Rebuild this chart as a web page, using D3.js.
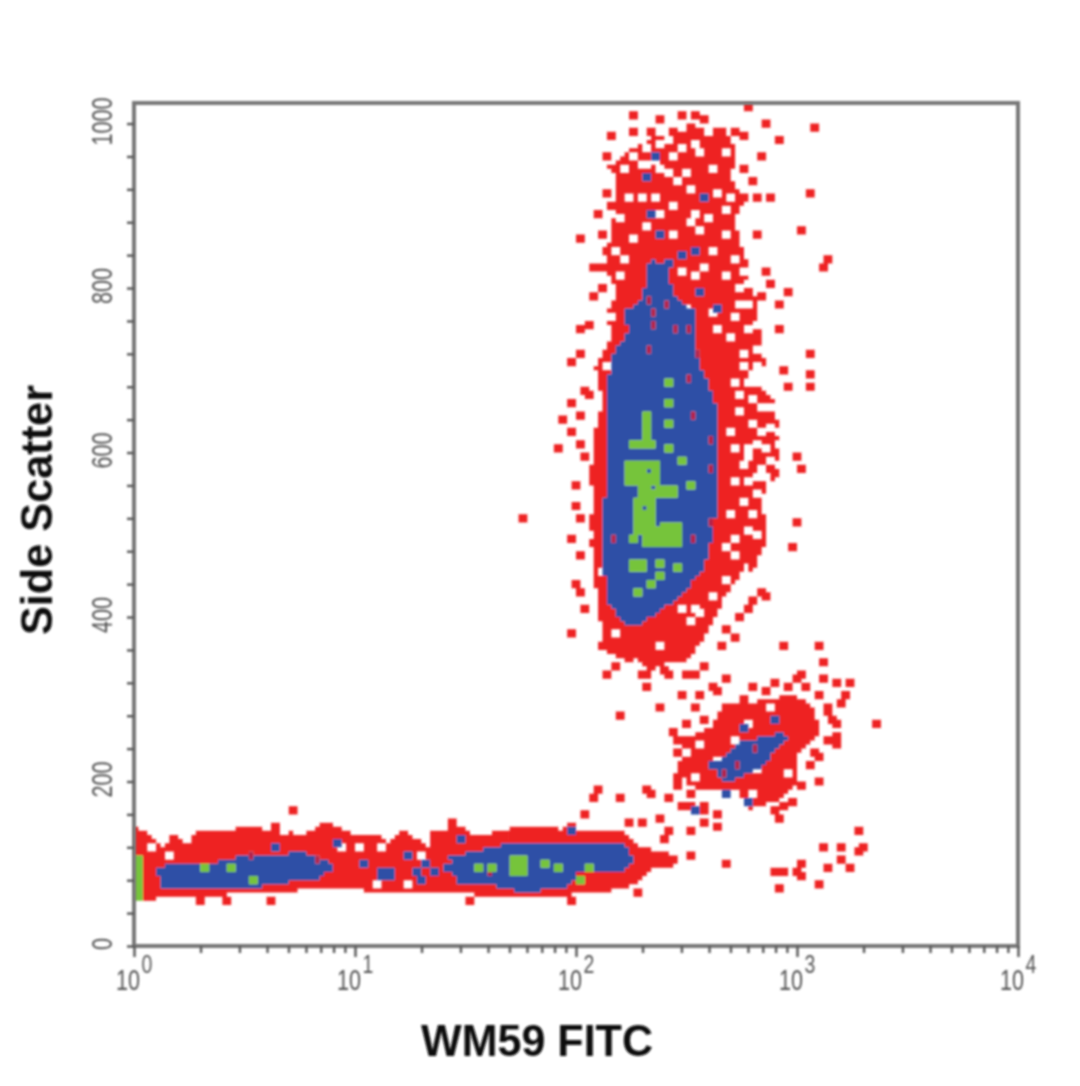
<!DOCTYPE html>
<html><head><meta charset="utf-8">
<script src="https://cdn.jsdelivr.net/npm/d3@7/dist/d3.min.js"></script>
<style>html,body{margin:0;background:#fff}svg{display:block}</style></head><body>
<svg id="c" width="1080" height="1086"></svg>
<script>
// All positions are [log10 FITC, Side Scatter]
const redBlob=[[2.25,925],[2.21,890],[2.19,860],[2.17,830],[2.19,800],[2.13,765],[2.15,740],[2.08,700],[2.11,660],[2.08,628],[2.07,600],[2.05,567],[2.08,540],[2.04,506],[2.07,470],[2.08,433],[2.10,395],[2.12,365],[2.19,345],[2.24,350],[2.33,330],[2.40,342],[2.50,345],[2.60,385],[2.66,421],[2.74,452],[2.78,490],[2.74,505],[2.77,530],[2.70,540],[2.73,570],[2.72,610],[2.74,625],[2.69,650],[2.73,690],[2.68,720],[2.72,750],[2.68,786],[2.63,825],[2.68,850],[2.62,880],[2.56,895],[2.52,870],[2.44,890],[2.38,915],[2.33,895]];
const redLattice=[[2.22,962],[2.335,980],[2.47,987],[2.65,995],[2.71,968],[2.695,932],[2.765,895],[2.72,859],[2.765,828],[2.81,774],[2.83,725],[2.79,682],[2.88,664],[2.915,616],[2.90,567],[2.83,543],[2.855,494],[2.79,451],[2.56,543],[2.47,786],[2.20,786],[2.12,822],[2.145,859],[2.18,913],[2.135,944]];
const redBand=[[0,141],[.07,131],[.12,117],[.16,131],[.185,135],[.23,117],[.28,139],[.32,139],[.37,135],[.46,141],[.55,141],[.705,135],[.75,131],[.84,147],[.865,147],[.98,135],[1.11,131],[1.135,119],[1.20,135],[1.225,137],[1.32,117],[1.34,135],[1.465,144],[1.52,131],[1.61,135],[1.70,141],[1.87,144],[1.93,139],[1.97,151],[2.0,139],[2.15,139],[2.22,135],[2.29,117],[2.39,111],[2.46,107],[2.435,95],[2.335,90],[2.27,74],[2.20,66],[2.11,64],[1.97,60],[1.93,58],[1.75,56],[1.61,58],[1.45,62],[1.34,62],[1.20,64],[1.09,62],[.98,68],[.84,66],[.75,66],[.59,60],[.46,62],[.30,56],[.14,58],[0,50]];
const redCluster=[[2.48,250],[2.60,262],[2.66,290],[2.83,296],[2.97,303],[3.06,290],[3.10,257],[3.00,232],[3.00,195],[2.90,174],[2.765,163],[2.72,190],[2.605,186],[2.50,192],[2.45,214],[2.47,235]];
const blueBlob=[[2.335,832],[2.29,786],[2.21,768],[2.225,743],[2.16,719],[2.13,676],[2.13,616],[2.12,543],[2.11,470],[2.135,415],[2.21,387],[2.275,387],[2.38,406],[2.47,425],[2.57,455],[2.615,500],[2.64,579],[2.64,640],[2.585,682],[2.525,725],[2.54,768],[2.435,786],[2.40,822]];
const blueBand1=[[.085,92],[.185,99],[.345,99],[.48,107],[.75,111],[.865,102],[.90,92],[.82,78],[.66,74],[.48,66],[.12,66]];
const blueBand2=[[1.09,95],[1.18,95],[1.18,80],[1.10,80]];
const blueBand3=[[1.415,105],[1.565,114],[1.68,123],[2.04,123],[2.20,123],[2.26,102],[2.20,86],[2.0,85],[1.93,66],[1.725,64],[1.61,71],[1.45,71]];
const blueCluster=[[2.605,214],[2.74,245],[2.92,257],[2.95,248],[2.81,212],[2.675,196]];
const greenAreas=[[2.30,2.345,616,652],[2.245,2.365,603,616],[2.21,2.37,558,591],[2.275,2.455,543,558],[2.26,2.35,502,543],[2.30,2.47,485,516],[2.235,2.27,488,498],[2.235,2.325,454,470],[1.70,1.78,84,111]];
const greenBar=[[0,0.035,53,112]];
const redPoints=[[2.245,1007],[2.457,1007],[2.755,1017],[2.84,996],[3.06,990],[2.145,978],[2.245,987],[2.325,987],[2.90,977],[2.74,978],[2.50,990],[2.62,978],[2.665,968],[2.457,977],[2.27,965],[2.12,953],[2.81,953],[2.74,942],[3.03,911],[2.80,903],[2.865,903],[2.74,903],[3.00,865],[3.12,831],[3.09,822],[1.995,855],[2.12,911],[2.086,886],[2.12,841],[2.06,822],[2.11,794],[2.84,815],[2.865,800],[2.93,790],[2.90,774],[2.90,747],[1.995,743],[1.96,703],[2.82,704],[2.92,695],[3.03,692],[2.93,676],[3.03,676],[3.03,713],[2.03,670],[1.96,656],[1.928,637],[1.96,622],[1.905,598],[2.03,591],[3.00,573],[2.97,591],[1.995,516],[1.96,491],[2.97,508],[2.96,478],[1.995,427],[2.84,418],[2.775,415],[2.71,397],[2.65,381],[1.96,375],[2.92,358],[3.07,358],[3.09,339],[2.12,324],[2.29,327],[2.515,324],[2.665,320],[2.40,324],[2.88,317],[3.00,324],[3.16,317],[3.22,317],[3.20,302],[2.775,309],[2.59,309],[2.155,362],[2.21,343],[2.29,312],[2.36,345],[2.45,300],[2.14,355],[2.89,66],[3.07,71],[3.005,96],[3.00,78],[2.88,86],[2.92,86],[2.97,86],[3.12,92],[3.17,99],[3.22,89],[3.09,114],[3.18,114],[3.25,108],[3.285,114],[3.25,133],[2.655,96],[2.50,105],[2.49,133],[2.365,150],[2.40,135],[2.38,123],[2.275,145],[2.21,147],[2.03,154],[2.18,173],[2.06,173],[2.085,187],[2.29,187],[2.31,180],[2.40,173],[2.46,163],[2.185,274],[2.365,283],[2.525,283],[3.34,266],[2.56,145],[2.89,150],[2.92,163],[3.07,195],[3.07,226],[3.16,238],[3.16,252],[3.12,283],[2.62,141],[2.51,165],[2.56,162],[2.44,230],[2.425,253],[1.74,517],[.705,162],[.40,52],[.27,48],[.60,50],[1.50,50],[1.95,52],[2.25,58],[.62,141],[1.42,143],[3.10,320],[3.18,290],[3.13,270],[2.55,300],[2.62,305],[2.98,318],
[2.36,1000],[2.425,987],[2.515,1005],[2.56,999],[2.70,987],[2.78,926],[2.79,859],[2.81,786],[2.145,895],[2.11,859],[2.10,822],[2.06,786],[2.04,749],[2.01,713],[2.04,664],[2.01,640],[1.995,603],[1.98,555],[1.97,530],[1.995,470],[1.98,433],[2.02,403],[2.11,360],[2.16,333],[2.27,324],[2.38,330],[2.47,326],[2.56,333],[2.63,360],[2.70,372],[2.765,403],[2.81,427],[2.75,730],
[2.56,269],[2.63,275],[2.74,293],[2.83,305],[2.945,311],[3.01,311],[3.08,299],[3.125,281],[3.15,263],[3.125,245],[3.06,232],[3.035,214],[2.99,190],[2.965,171],[2.885,159],[2.47,263],[2.445,245],[2.435,190],[2.49,178],[2.56,165],[2.615,153],[2.445,202]];
const holePoints=[[2.515,972],[2.55,960],[2.605,942],[2.66,960],[2.69,935],[2.485,935],[2.425,953],[2.365,942],[2.20,942],[2.305,944],[2.145,929],[2.335,907],[2.44,923],[2.50,914],[2.62,911],[2.66,892],[2.71,880],[2.74,892],[2.71,869],[2.65,859],[2.55,865],[2.49,873],[2.525,887],[2.365,887],[2.245,855],[2.155,841],[2.20,831],[2.14,796],[2.185,810],[2.45,814],[2.515,808],[2.66,808],[2.755,802],[2.71,777],[2.59,765],[2.705,758],[2.79,749],[2.755,746],[2.62,743],[2.68,735],[2.145,758],[2.085,752],[2.80,721],[2.74,716],[2.12,698],[2.825,691],[2.775,689],[2.73,701],[2.705,680],[2.485,770],[2.81,652],[2.71,646],[2.73,579],[2.82,577],[2.89,581],[2.695,558],[2.79,567],[2.865,555],[2.74,536],[2.83,534],[2.755,502],[2.705,490],[2.65,478],[2.80,494],[2.80,607],[2.89,603],[2.095,449],[2.04,497],[2.46,405],[2.525,405],[2.49,388],[2.365,362],[2.16,375],[2.485,230],[2.525,202],[2.705,245],[2.78,180],[2.935,204],[2.80,210],[2.765,263],[2.62,220],[2.86,285],[2.55,240],[.14,107],[.05,114],[.66,133],[.925,114],[.99,113],[1.10,117],[1.28,105],[1.07,72],[1.22,72],
[2.26,975],[2.30,965],[2.35,970],[2.40,975],[2.45,965],[2.58,985],[2.28,945],[2.24,955],[2.40,935],[2.33,950],[2.22,905],[2.27,905],[2.42,895],[2.58,880],[2.68,905],[2.30,870],[2.42,860],[2.60,840],[2.56,820],[2.70,830],[2.74,815],[2.17,880],[2.76,680],[2.86,650],[2.78,630],[2.86,625],[2.76,600],[2.84,600],[2.76,590],[2.86,585],[2.90,620],[2.82,620],[2.76,560],[2.84,565],[2.78,520],[2.80,545],[2.68,520],[2.70,600],[2.68,620],[2.72,665],[2.77,660],[2.79,700],[2.76,775],[2.72,795],[2.55,400],[2.60,420],[2.66,440],[2.70,470]];
const bluePoints=[[2.345,953],[2.29,931],[2.56,903],[2.31,886],[2.35,858],[2.40,825],[2.515,841],[2.46,834],[2.40,790],[2.54,790],[2.61,770],[2.32,822],[2.66,181],[2.765,172],[2.60,214],[2.52,160],[1.21,107],[1.28,77],[1.39,92],[1.02,95],[1.30,95],[1.25,85],[1.34,85],[.62,117],[.90,120],[1.95,133],[1.45,125],[2.73,262],[2.88,272]];
const speckPoints=[[2.515,640],[2.59,573],[2.525,491],[2.16,491],[2.59,512],[2.60,610],[2.32,780],[2.40,774],[2.335,764],[2.335,749],[2.44,747],[2.31,720],[2.505,745],[2.55,716],[2.505,685],[2.72,215],[2.80,235],[2.66,205],[.51,103],[.82,100],[1.60,84]];
const greenPoints=[[2.40,601],[2.40,656],[2.40,628],[2.45,585],[2.49,556],[2.44,454],[2.36,461],[2.31,433],[2.25,423],[2.365,446],[2.39,679],[.525,77],[.41,89],[.295,89],[1.83,96],[1.905,89],[2.035,92],[2.0,77],[1.53,89],[1.59,89]];
const greenHoles=[[2.31,575],[2.335,555],[2.30,530],[2.36,508],[2.29,600],[2.33,640]];
const xTickDecades=[0,1,2,3,4];
const yTickLabels=[0,200,400,600,800,1000];
const xTitle="WM59 FITC", yTitle="Side Scatter";

const svg=d3.select("#c");
const defs=svg.append("defs");
defs.append("filter").attr("id","soft").attr("x","-5%").attr("y","-5%").attr("width","110%").attr("height","110%")
  .append("feGaussianBlur").attr("stdDeviation",1.15);
defs.append("filter").attr("id","softText").attr("x","-20%").attr("y","-20%").attr("width","140%").attr("height","140%")
  .append("feGaussianBlur").attr("stdDeviation",1.1);

const x=d3.scaleLog().domain([1,10000]).range([134,1018]);
const y=d3.scaleLinear().domain([0,1025]).range([946,103]);
const px=v=>x(Math.pow(10,v));
const RED="#ee2024",BLUE="#2f4fa6",GREEN="#76c43a",WHITE="#fff",SPECK="#b3204a";

// density bins: 0.02 decade by 5 SSC
const LW=0.02,SH=5;
const grid=new Map();
const put=(i,j,c)=>grid.set(i+","+j,c);
const ci=v=>Math.round(v/LW),cj=v=>Math.round(v/SH);
function fillPoly(p,c){
  const xs=p.map(d=>d[0]),ys=p.map(d=>d[1]);
  for(let i=ci(d3.min(xs));i<=ci(d3.max(xs));i++)for(let j=cj(d3.min(ys));j<=cj(d3.max(ys));j++)
    if(d3.polygonContains(p,[i*LW,j*SH]))put(i,j,c);
}
function fillBox(b,c){
  for(let i=ci(b[0]);i<ci(b[1]);i++)for(let j=cj(b[2]);j<cj(b[3]);j++)put(i,j,c);
}
function stamp(list,c,w,h){
  list.forEach(d=>{const i0=ci(d[0]),j0=cj(d[1]);
    for(let a=0;a<w;a++)for(let b=0;b<h;b++)put(i0+a,j0+b,c);});
}
[redLattice,redBlob,redBand,redCluster].forEach(p=>fillPoly(p,RED));
stamp(redPoints,RED,2,2);
stamp(holePoints,WHITE,2,2);
[blueBlob,blueBand1,blueBand2,blueBand3,blueCluster].forEach(p=>fillPoly(p,BLUE));
stamp(bluePoints,BLUE,2,2);
stamp(speckPoints,SPECK,1,2);
greenAreas.forEach(b=>fillBox(b,GREEN));
stamp(greenPoints,GREEN,2,2);
stamp(greenHoles,BLUE,1,1);
greenBar.forEach(b=>fillBox(b,GREEN));

const paths=d3.rollup([...grid.entries()],v=>v.map(([k])=>{
  const [i,j]=k.split(",").map(Number);
  const X0=px(i*LW),X1=px((i+1)*LW),Y0=y((j+1)*SH),Y1=y(j*SH);
  return `M${X0.toFixed(2)} ${Y0.toFixed(2)}H${X1.toFixed(2)}V${Y1.toFixed(2)}H${X0.toFixed(2)}Z`;
}).join(""),d=>d[1]);
const plot=svg.append("g").attr("filter","url(#soft)");
plot.selectAll("path").data([...paths.entries()].filter(d=>d[0]!==WHITE)).join("path").attr("d",d=>d[1]).attr("fill",d=>d[0]);

const frame=svg.append("g").attr("filter","url(#soft)");
frame.append("rect").attr("x",134).attr("y",103).attr("width",884).attr("height",843)
  .attr("fill","none").attr("stroke","#777").attr("stroke-width",4);

const xMinor=[];xTickDecades.slice(0,-1).forEach(e=>{for(let m=2;m<10;m++)xMinor.push(m*Math.pow(10,e));});
const gx=frame.append("g").attr("transform","translate(0,946)")
  .call(d3.axisBottom(x).tickValues(xMinor).tickSize(7).tickFormat(""));
const gxM=frame.append("g").attr("transform","translate(0,946)")
  .call(d3.axisBottom(x).tickValues(xTickDecades.map(e=>Math.pow(10,e))).tickSize(11).tickFormat(""));
const yMinor=d3.range(0,1001,40);
const gy=frame.append("g").attr("transform","translate(134,0)")
  .call(d3.axisLeft(y).tickValues(yMinor).tickSize(7).tickFormat(""));
[gx,gxM,gy].forEach(g=>{g.select(".domain").remove();g.selectAll("line").attr("stroke","#555").attr("stroke-width",2.4);});

const text=svg.append("g").attr("filter","url(#softText)").attr("font-family","Liberation Sans, Arial, sans-serif");
yTickLabels.forEach(v=>{
  text.append("text").text(v).attr("transform",`translate(112,${y(v)-2}) rotate(-90) scale(0.72,1)`)
    .attr("text-anchor","middle").attr("font-size",30).attr("fill","#555");
});
xTickDecades.forEach(e=>{
  const cx=x(Math.pow(10,e));
  text.append("text").text("10").attr("transform",`translate(${cx-6},990) scale(0.72,1)`).attr("text-anchor","middle").attr("font-size",30).attr("fill","#555");
  text.append("text").text(e).attr("transform",`translate(${cx+13},973) scale(0.75,1)`).attr("text-anchor","middle").attr("font-size",26).attr("fill","#555");
});
text.append("text").text(xTitle).attr("x",537).attr("y",1056).attr("text-anchor","middle")
  .attr("font-size",44).attr("font-weight","bold").attr("fill","#111").attr("textLength",232).attr("lengthAdjust","spacingAndGlyphs");
text.append("text").text(yTitle).attr("transform","translate(52,510) rotate(-90)").attr("text-anchor","middle")
  .attr("font-size",44).attr("font-weight","bold").attr("fill","#111").attr("textLength",250).attr("lengthAdjust","spacingAndGlyphs");
</script></body></html>
